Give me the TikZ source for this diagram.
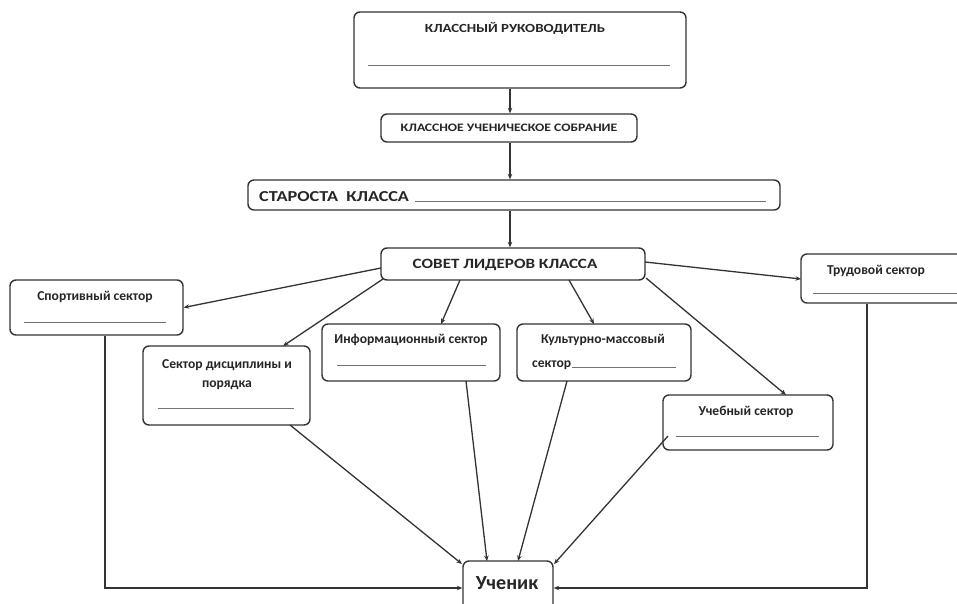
\documentclass[tikz,border=0pt]{standalone}
\usepackage{fontspec}
\setmainfont{Carlito}
\newfontfamily\widefont[FakeStretch=1.2]{Carlito}
\usetikzlibrary{arrows.meta,calc}
\begin{document}
\begin{tikzpicture}[x=1pt,y=-1pt,
  box/.style={draw=black!80, line width=1.4pt, rounded corners=6pt, inner sep=0pt},
  lbl/.style={font=\bfseries\fontsize{13.6}{16}\selectfont, inner sep=0pt, text=black!85},
  cap/.style={font=\widefont\bfseries\fontsize{#1}{#1}\selectfont, inner sep=0pt, text=black!85},
  uline/.style={draw=black!55, line width=1pt},
  arr/.style={draw=black!80, line width=1.3pt, -{Stealth[length=5.5pt,width=4.5pt]}},
]
\useasboundingbox[fill=white] (0,0) rectangle (957,604);
% boxes
\node[box, minimum width=332pt, minimum height=76pt] (ruk) at (520,50) {};
\node[box, minimum width=256pt, minimum height=28pt] (sob) at (509,128) {};
\node[box, minimum width=532pt, minimum height=30pt] (star) at (514,195) {};
\node[box, minimum width=264pt, minimum height=32pt] (sov) at (513,264) {};
\node[box, minimum width=173pt, minimum height=55pt] (sport) at (96.5,307.5) {};
\node[box, minimum width=167pt, minimum height=79pt] (disc) at (226.5,385.5) {};
\node[box, minimum width=178pt, minimum height=57pt] (info) at (411,352.5) {};
\node[box, minimum width=174pt, minimum height=57pt] (kult) at (604,352.5) {};
\node[box, minimum width=170pt, minimum height=55pt] (ucheb) at (748,422.5) {};
\node[box, minimum width=170pt, minimum height=49pt] (trud) at (886,278.5) {};
\node[box, minimum width=90pt, minimum height=60pt] (uch) at (508,591) {};
% texts
\node[cap=12.4] (rukT) at (515,28) {КЛАССНЫЙ РУКОВОДИТЕЛЬ};
\draw[uline] (368,66) -- (670,66);
\node[cap=11.4] (sobT) at (509,128) {КЛАССНОЕ УЧЕНИЧЕСКОЕ СОБРАНИЕ};
\node[cap=15.2, anchor=base west] (starT) at (259,201) {СТАРОСТА\ \ КЛАССА};
\draw[uline] ($(starT.base east)+(6,0)$) -- (766,201);
\node[cap=14.2] (sovT) at (505,265) {СОВЕТ ЛИДЕРОВ КЛАССА};
\node[lbl] (sportT) at (95,297) {Спортивный сектор};
\draw[uline] (24,322) -- (166,322);
\node[lbl, align=center, font=\bfseries\fontsize{13.6}{19}\selectfont] (discT) at (227,375) {Сектор дисциплины и\\порядка};
\draw[uline] (158,408) -- (294,408);
\node[lbl] (infoT) at (411,340) {Информационный сектор};
\draw[uline] (337,365) -- (486,365);
\node[lbl] (kultT) at (603,340) {Культурно-массовый};
\node[lbl, anchor=base west] (kultT2) at (532,367) {сектор};
\draw[uline] ($(kultT2.base east)+(1,0)$) -- (676,367);
\node[lbl] (uchebT) at (746,412) {Учебный сектор};
\draw[uline] (676,436) -- (819,436);
\node[lbl] (trudT) at (876,271) {Трудовой сектор};
\draw[uline] (813,293) -- (957,293);
\node[lbl, font=\bfseries\fontsize{20}{22}\selectfont] (uchT) at (507,583) {Ученик};
% arrows down the chain
\draw[arr] (ruk.south -| 510,0) -- (sob.north -| 510,0);
\draw[arr] (sob.south -| 510,0) -- (star.north -| 510,0);
\draw[arr] (star.south -| 510,0) -- (sov.north -| 510,0);
% from council
\draw[arr] (381,268) -- (sport.east);
\draw[arr] (383,279) -- (283,346);
\draw[arr] (460,280) -- (441,324);
\draw[arr] (569,280) -- (594,324);
\draw[arr] (646,278) -- (786,395);
\draw[arr] (645,262) -- (801,279);
% to pupil
\draw[arr] (sport.south -| 105,0) |- (uch.west |- 0,588);
\draw[arr] (trud.south -| 867,0) |- (uch.east |- 0,588);
\draw[arr] (290,425) -- (462,564);
\draw[arr] (466,381) -- (487,561);
\draw[arr] (567,381) -- (518,561);
\draw[arr] (668,436) -- (554,564);
\end{tikzpicture}
\end{document}
